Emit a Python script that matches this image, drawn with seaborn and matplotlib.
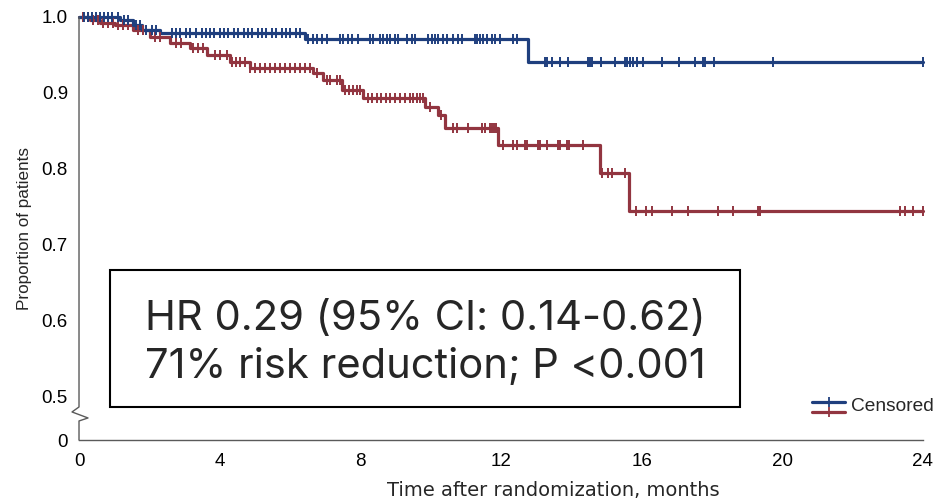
import numpy as np
import pandas as pd
import matplotlib
matplotlib.use("Agg")
import matplotlib.pyplot as plt
from matplotlib.patches import Rectangle
import seaborn as sns

# Kaplan-Meier steps (months, survival after the step)
blue_event_t = [1.17, 1.54, 1.79, 2.30, 6.43, 12.77]
blue_event_s = [0.996, 0.989, 0.983, 0.979, 0.971, 0.941]
red_event_t = [0.31, 0.60, 1.02, 1.54, 2.02, 2.59, 3.16, 3.64, 4.29, 4.85,
               6.65, 6.94, 7.48, 8.08, 9.84, 10.21, 10.41, 11.91, 14.81, 15.64]
red_event_s = [0.996, 0.992, 0.989, 0.983, 0.974, 0.966, 0.959, 0.950, 0.940, 0.933,
               0.926, 0.917, 0.904, 0.893, 0.881, 0.871, 0.853, 0.831, 0.794, 0.744]

# Censoring times (months)
blue_censor = [0.14, 0.26, 0.37, 0.48, 0.60, 0.71, 0.82, 0.94, 1.11, 1.28, 1.39,
               1.62, 1.73, 1.91, 2.08, 2.19, 2.64, 2.76, 2.87, 3.04, 3.16, 3.33,
               3.50, 3.61, 3.73, 3.84, 4.01, 4.12, 4.24, 4.41, 4.52, 4.69, 4.81,
               4.92, 5.09, 5.20, 5.32, 5.49, 5.60, 5.77, 5.89, 6.00, 6.17, 6.28,
               6.51, 6.65, 6.77, 6.91, 7.05, 7.42, 7.51, 7.65, 7.76, 7.93, 8.27,
               8.36, 8.56, 8.64, 8.76, 8.84, 8.98, 9.07, 9.33, 9.47, 9.55, 9.92,
               10.04, 10.12, 10.21, 10.35, 10.46, 10.63, 10.78, 10.89, 11.26,
               11.32, 11.40, 11.49, 11.60, 11.74, 11.83, 11.97, 12.34, 12.45,
               13.25, 13.31, 13.45, 13.68, 13.90, 14.47, 14.53, 14.59, 14.84,
               15.24, 15.52, 15.58, 15.67, 15.75, 15.87, 16.04, 16.58, 17.06,
               17.52, 17.74, 17.80, 18.05, 19.73, 24.0]
red_censor = [0.11, 0.26, 0.40, 0.54, 0.68, 0.82, 0.97, 1.11, 1.25, 1.39, 1.68,
              1.82, 2.16, 2.30, 2.76, 2.90, 3.24, 3.38, 3.53, 3.87, 4.01, 4.21,
              4.35, 4.46, 4.58, 4.72, 4.86, 5.00, 5.15, 5.29, 5.43, 5.57, 5.72,
              5.86, 6.00, 6.14, 6.28, 6.43, 6.57, 6.77, 7.05, 7.14, 7.34, 7.42,
              7.56, 7.68, 7.79, 7.90, 7.99, 8.22, 8.33, 8.47, 8.59, 8.73, 8.84,
              8.98, 9.13, 9.27, 9.41, 9.50, 9.61, 9.70, 9.78, 9.98, 10.29,
              10.63, 10.75, 11.06, 11.46, 11.54, 11.69, 11.74, 11.80, 11.86,
              12.06, 12.34, 12.45, 12.68, 12.74, 13.05, 13.11, 13.31, 13.62,
              13.68, 13.88, 13.93, 14.33, 14.87, 15.04, 15.16, 15.52, 15.84,
              16.12, 16.29, 16.86, 17.32, 18.17, 18.60, 19.31, 19.36, 23.34,
              23.49, 23.71, 24.0]

x_ticks = [0, 4, 8, 12, 16, 20, 24]
y_tick_labels = ["0", "0.5", "0.6", "0.7", "0.8", "0.9", "1.0"]
y_tick_values = [0.442, 0.5, 0.6, 0.7, 0.8, 0.9, 1.0]  # 0 sits below the axis break

annotation_lines = ["HR 0.29 (95% CI: 0.14-0.62)", "71% risk reduction; P <0.001"]
legend_label = "Censored"

BLUE = "#1f3f7e"
RED = "#923540"

sns.set_style("white")
plt.rcParams["font.family"] = ["Liberation Sans", "DejaVu Sans"]


def km_frame(event_t, event_s, t_end=24.0):
    t = [0.0] + list(event_t) + [t_end]
    s = [1.0] + list(event_s) + [event_s[-1]]
    return pd.DataFrame({"time": t, "surv": s})


def censor_frame(km, censor_t):
    t = np.asarray(censor_t)
    idx = np.searchsorted(km["time"].values, t, side="right") - 1
    idx = np.clip(idx, 0, len(km) - 1)
    return pd.DataFrame({"time": t, "surv": km["surv"].values[idx]})


blue_km = km_frame(blue_event_t, blue_event_s)
red_km = km_frame(red_event_t, red_event_s)
blue_c = censor_frame(blue_km, blue_censor)
red_c = censor_frame(red_km, red_censor)

fig = plt.figure(figsize=(9.35, 4.99), dpi=100)
ax = fig.add_axes([0.0845, 0.1182, 0.9025, 0.8478])

for km, cen, col in [(red_km, red_c, RED), (blue_km, blue_c, BLUE)]:
    sns.lineplot(data=km, x="time", y="surv", ax=ax, color=col, lw=2.3,
                 drawstyle="steps-post", estimator=None, sort=False,
                 clip_on=False, zorder=3)
    sns.scatterplot(data=cen, x="time", y="surv", ax=ax, color=col,
                    marker="|", s=60, linewidth=1.4, clip_on=False, zorder=4)

ax.set_xlim(0, 24)
ax.set_ylim(0.442, 1.0)
ax.set_xticks(x_ticks)
ax.set_xticklabels([str(v) for v in x_ticks])
ax.set_yticks(y_tick_values)
ax.set_yticklabels(y_tick_labels)

spine_col = "#5a5a5a"
for side in ["top", "right", "left"]:
    ax.spines[side].set_visible(False)
ax.spines["bottom"].set_color(spine_col)
ax.spines["bottom"].set_linewidth(1.0)
ax.tick_params(axis="both", direction="out", length=5, width=1.0,
               color=spine_col, labelsize=13.5, labelcolor="black", pad=3)
ax.tick_params(axis="x", pad=4)

# left spine with a zig-zag break between 0 and 0.5
h = ax.get_window_extent().height
w = ax.get_window_extent().width
def ay(px_from_top):
    return 1.0 - (px_from_top - 17) / h
dx = 1.0 / w
spine_x = [0, 0, -7 * dx, 9 * dx, 0, 0]
spine_y = [1.0, ay(407), ay(412), ay(418), ay(421), 0.0]
ax.plot(spine_x, spine_y, transform=ax.transAxes, color=spine_col, lw=1.0,
        clip_on=False, zorder=5)

ax.set_xlabel("Time after randomization, months", fontsize=14,
              family=["DejaVu Sans"])
ax.set_ylabel("Proportion of patients", fontsize=12.3)
ax.xaxis.set_label_coords(0.562, -0.098)
ax.yaxis.set_label_coords(-0.056, 0.5)

# legend: two short lines with censor ticks and one label
lx0, lx1 = (812 - 79) * dx, (845 - 79) * dx
for col, py in [(BLUE, 402), (RED, 412)]:
    ax.plot([lx0, lx1], [ay(py)] * 2, transform=ax.transAxes, color=col,
            lw=2.3, clip_on=False)
    ax.plot([(lx0 + lx1) / 2], [ay(py)], transform=ax.transAxes, color=col,
            marker="|", ms=7.5, mew=1.3, clip_on=False)
ax.text((851 - 79) * dx, ay(407), legend_label, transform=ax.transAxes,
        fontsize=13.8, va="center", ha="left")

# statistics box
fig.patches.append(Rectangle((110 / 935, 1 - 407 / 499), 630 / 935, 137 / 499,
                             transform=fig.transFigure, facecolor="white",
                             edgecolor="black", lw=1.5, zorder=10))
for line, base in zip(annotation_lines, [330, 378]):
    fig.text(425 / 935, 1 - base / 499, line, ha="center", va="baseline",
             fontsize=30, family=["Inter", "DejaVu Sans"], zorder=11)

fig.savefig("out.png", dpi=100)
